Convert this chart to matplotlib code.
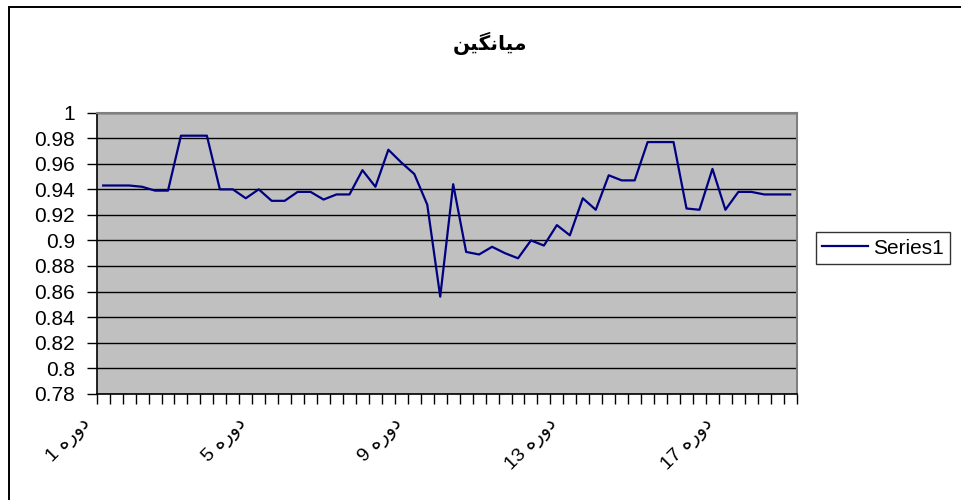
import matplotlib
matplotlib.use("Agg")
import matplotlib.pyplot as plt
from matplotlib.patches import Rectangle
from matplotlib.transforms import ScaledTranslation

# chart data
title_text = "میانگین"
periods = ["دوره 1", "دوره 2", "دوره 3", "دوره 4", "دوره 5", "دوره 6",
           "دوره 7", "دوره 8", "دوره 9", "دوره 10", "دوره 11", "دوره 12",
           "دوره 13", "دوره 14", "دوره 15", "دوره 16", "دوره 17", "دوره 18"]
points_per_period = 3
series_name = "Series1"
series1 = [0.943, 0.943, 0.943, 0.942, 0.939, 0.939,
           0.982, 0.982, 0.982, 0.940, 0.940, 0.933,
           0.940, 0.931, 0.931, 0.938, 0.938, 0.932,
           0.936, 0.936, 0.955, 0.942, 0.971, 0.961,
           0.952, 0.928, 0.856, 0.944, 0.891, 0.889,
           0.895, 0.890, 0.886, 0.900, 0.896, 0.912,
           0.904, 0.933, 0.924, 0.951, 0.947, 0.947,
           0.977, 0.977, 0.977, 0.925, 0.924, 0.956,
           0.924, 0.938, 0.938, 0.936, 0.936, 0.936]
y_ticks = [0.78, 0.8, 0.82, 0.84, 0.86, 0.88, 0.9, 0.92, 0.94, 0.96, 0.98, 1]
y_tick_labels = ["0.78", "0.8", "0.82", "0.84", "0.86", "0.88", "0.9",
                 "0.92", "0.94", "0.96", "0.98", "1"]
label_every = 12

categories = [p for p in periods for _ in range(points_per_period)]


def visual_order(label):
    # matplotlib has no bidi support; the letters of "دوره" never join,
    # so reversing the word and putting the number first gives the RTL look
    word, num = label.split(" ")
    return num + " " + word[::-1]


# title in presentation forms, visual order (no shaping in matplotlib)
title_shaped = "\uFEE6\uFBFF\uFB95\uFEE7\uFE8E\uFBFF\uFEE3"

FONT = ["Liberation Sans", "DejaVu Sans"]
FS = 15

fig = plt.figure(figsize=(9.61, 5.0), dpi=100)
fig.patch.set_facecolor("white")

# chart area border (runs off the right/bottom edge like the reference)
fig.patches.append(Rectangle((8.5 / 961, -0.05), 1.2, 1.05 - 7.5 / 500,
                             transform=fig.transFigure, fill=False,
                             edgecolor="black", linewidth=1.4))

ax = fig.add_axes([96.7 / 961, 1 - 393.7 / 500, 700 / 961, 281 / 500])
ax.set_facecolor("#C0C0C0")

x = range(len(series1))
ax.plot(x, series1, color="#000080", linewidth=1.6, label=series_name,
        zorder=3)

ax.set_xlim(-0.5, len(categories) - 0.5)
ax.set_ylim(0.78, 1.0)

ax.set_yticks(y_ticks)
ax.set_yticklabels(y_tick_labels, fontsize=FS, family=FONT)
ax.yaxis.grid(True, color="black", linewidth=1.0)
ax.set_axisbelow(True)
ax.tick_params(axis="y", direction="out", length=7, width=1, pad=8.5)

# tick marks between categories, labels on every 12th category
ax.set_xticks([i - 0.5 for i in range(len(categories) + 1)], minor=True)
ax.tick_params(axis="x", which="minor", direction="out", length=7, width=1)
lab_pos = list(range(0, len(categories), label_every))
ax.set_xticks(lab_pos)
ax.set_xticklabels([visual_order(categories[i]) for i in lab_pos],
                   rotation=45, ha="right", va="center",
                   rotation_mode="anchor", fontsize=14, family=FONT)
ax.tick_params(axis="x", which="major", length=0, pad=16)
shift = ScaledTranslation(-15 / 100, -6 / 100, fig.dpi_scale_trans)
for lab in ax.get_xticklabels():
    lab.set_transform(lab.get_transform() + shift)

for side in ["top", "right"]:
    ax.spines[side].set_color("#808080")
    ax.spines[side].set_linewidth(1.5)
for side in ["left", "bottom"]:
    ax.spines[side].set_color("black")
    ax.spines[side].set_linewidth(1.2)

fig.text(490 / 961, 1 - 43 / 500, title_shaped, ha="center", va="center",
         fontsize=14.5, fontweight="bold", family=["DejaVu Sans"])

leg = fig.legend(loc="center left", bbox_to_anchor=(816 / 961, 1 - 248 / 500),
                 frameon=True, fancybox=False, prop={"family": FONT, "size": FS},
                 handlelength=2.2, borderpad=0.3, handletextpad=0.25,
                 borderaxespad=0)
leg.get_frame().set_edgecolor("black")
leg.get_frame().set_linewidth(1.0)

fig.savefig("out.png", dpi=100, facecolor="white")
